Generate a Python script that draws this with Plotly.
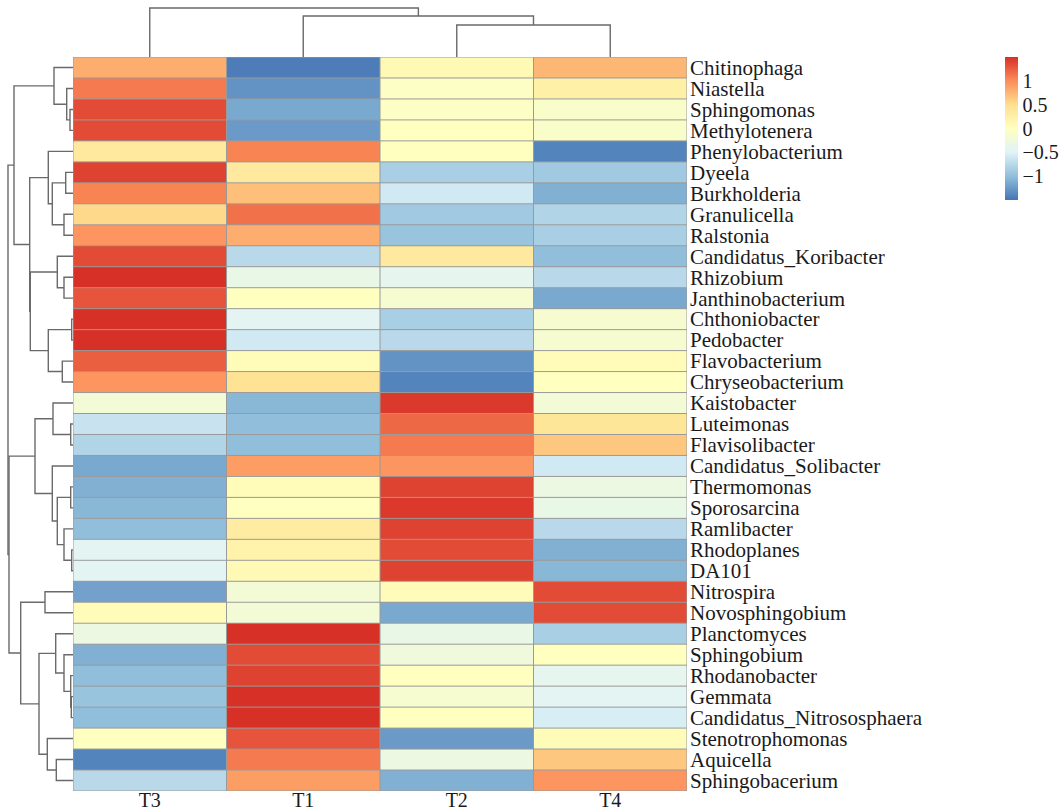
import plotly.graph_objects as go

# ---------------- data ----------------
samples = ["T3", "T1", "T2", "T4"]
genera = ["Chitinophaga", "Niastella", "Sphingomonas", "Methylotenera", "Phenylobacterium",
          "Dyeela", "Burkholderia", "Granulicella", "Ralstonia", "Candidatus_Koribacter",
          "Rhizobium", "Janthinobacterium", "Chthoniobacter", "Pedobacter", "Flavobacterium",
          "Chryseobacterium", "Kaistobacter", "Luteimonas", "Flavisolibacter", "Candidatus_Solibacter",
          "Thermomonas", "Sporosarcina", "Ramlibacter", "Rhodoplanes", "DA101",
          "Nitrospira", "Novosphingobium", "Planctomyces", "Sphingobium", "Rhodanobacter",
          "Gemmata", "Candidatus_Nitrososphaera", "Stenotrophomonas", "Aquicella", "Sphingobacerium"]

# row z-scores, columns in order T3, T1, T2, T4
zscore = [
    [0.80, -1.45, 0.10, 0.75],
    [1.10, -1.30, -0.05, 0.25],
    [1.35, -1.15, -0.05, -0.10],
    [1.35, -1.25, 0.00, -0.10],
    [0.35, 1.05, 0.00, -1.40],
    [1.40, 0.35, -0.85, -0.90],
    [1.05, 0.70, -0.60, -1.10],
    [0.55, 1.15, -0.90, -0.80],
    [0.95, 0.80, -0.95, -0.85],
    [1.35, -0.75, 0.35, -1.00],
    [1.50, -0.35, -0.40, -0.75],
    [1.30, 0.00, -0.15, -1.15],
    [1.50, -0.45, -0.85, -0.15],
    [1.50, -0.60, -0.75, -0.15],
    [1.25, 0.05, -1.30, 0.05],
    [0.95, 0.45, -1.40, 0.00],
    [-0.20, -1.05, 1.45, -0.20],
    [-0.65, -1.00, 1.20, 0.40],
    [-0.80, -1.00, 1.10, 0.65],
    [-1.15, 0.90, 0.95, -0.60],
    [-1.10, 0.05, 1.40, -0.30],
    [-1.05, 0.00, 1.45, -0.35],
    [-1.00, 0.30, 1.40, -0.75],
    [-0.45, 0.20, 1.35, -1.10],
    [-0.45, 0.10, 1.40, -1.05],
    [-1.20, -0.20, 0.05, 1.35],
    [0.05, -0.20, -1.15, 1.35],
    [-0.30, 1.50, -0.35, -0.85],
    [-1.10, 1.35, -0.25, 0.00],
    [-1.00, 1.40, 0.00, -0.40],
    [-0.95, 1.50, -0.15, -0.45],
    [-1.00, 1.50, 0.00, -0.55],
    [0.00, 1.30, -1.25, 0.05],
    [-1.40, 1.10, -0.30, 0.65],
    [-0.75, 0.90, -1.10, 0.95],
]

# row clustering: (node, child, child, merge height); ints are row indices
row_links = [
    ("A", 2, 3, 3.0), ("B", 1, "A", 6.3), ("C", 0, "B", 19.0),
    ("D", 5, 6, 7.3), ("E", 7, 8, 9.0), ("F", "D", "E", 20.7), ("G", 4, "F", 24.7),
    ("M", 10, 11, 9.0), ("K", 9, "M", 15.7), ("N", 12, 13, 1.3), ("O", 14, 15, 10.7),
    ("L", "N", "O", 24.7), ("H2", "K", "L", 42.7), ("H1", "G", "H2", 43.3), ("J", "C", "H1", 59.0),
    ("S", 17, 18, 2.3), ("T", 16, "S", 20.0), ("W", 20, 21, 2.3), ("Y", 23, 24, 1.3),
    ("X", 22, "Y", 9.0), ("V", "W", "X", 15.7), ("U", 19, "V", 20.7), ("Q", "T", "U", 38.0),
    ("Z", 25, 26, 28.0), ("AE", 30, 31, 1.7), ("AD", 29, "AE", 2.3), ("AC", 28, "AD", 9.0),
    ("AB", 27, "AC", 17.3), ("AG", 33, 34, 16.7), ("AF", 32, "AG", 25.7), ("AA", "AB", "AF", 34.0),
    ("R", "Z", "AA", 52.3), ("P2", "Q", "R", 64.0), ("root", "J", "P2", 65.0),
]

# column clustering (indices into samples)
col_links = [("c1", 2, 3, 32.0), ("c2", 1, "c1", 41.0), ("c3", 0, "c2", 49.0)]

colorscale_hex = ["#4575B4", "#91BFDB", "#E0F3F8", "#FFFFBF", "#FEE090", "#FC8D59", "#D73027"]
cbar_ticks = [-1, -0.5, 0, 0.5, 1]

# ---------------- helpers ----------------
def dendro_segments(links):
    pos, hgt = {}, {}
    a, b = [], []  # a: leaf-axis coord, b: height coord
    def p(c):
        return (c, 0.0) if isinstance(c, int) else (pos[c], hgt[c])
    for name, c1, c2, h in links:
        p1, h1 = p(c1)
        p2, h2 = p(c2)
        a += [p1, p1, p2, p2, None]
        b += [h1, h, h, h2, None]
        pos[name] = (p1 + p2) / 2
        hgt[name] = h
    return a, b

W, H = 1064, 812
hm_l, hm_r, hm_t, hm_b = 73, 687, 57, 791

serif = "Liberation Serif"
line_col = "#6a6a6a"
txt_col = "#1a1a1a"

fig = go.Figure()

n = len(colorscale_hex)
cs = [[i / (n - 1), c] for i, c in enumerate(colorscale_hex)]

fig.add_trace(go.Heatmap(
    z=zscore, x=list(range(len(samples))), y=list(range(len(genera))),
    colorscale=cs, zmin=-1.5, zmax=1.5, xaxis="x", yaxis="y",
    colorbar=dict(x=1005 / W, xanchor="left", y=1 - hm_t / H, yanchor="top",
                  len=143 / H, lenmode="fraction", thickness=13, outlinewidth=0,
                  xpad=0, ypad=0,
                  tickvals=cbar_ticks, ticks="", ticklabelposition="outside",
                  tickfont=dict(family=serif, size=20, color=txt_col)),
    hoverinfo="z",
))

# top dendrogram
ca, cb = dendro_segments(col_links)
fig.add_trace(go.Scatter(x=ca, y=cb, mode="lines", xaxis="x2", yaxis="y2",
                         line=dict(color=line_col, width=1.4), hoverinfo="skip", showlegend=False))
# left dendrogram
ra, rb = dendro_segments(row_links)
fig.add_trace(go.Scatter(x=rb, y=ra, mode="lines", xaxis="x3", yaxis="y3",
                         line=dict(color=line_col, width=1.4), hoverinfo="skip", showlegend=False))

# cell borders
shapes = []
nr, nc = len(genera), len(samples)
for j in range(nr + 1):
    shapes.append(dict(type="line", xref="x", yref="y", x0=-0.5, x1=nc - 0.5, y0=j - 0.5, y1=j - 0.5,
                       line=dict(color="#9a9a9a", width=1)))
for i in range(nc + 1):
    shapes.append(dict(type="line", xref="x", yref="y", x0=i - 0.5, x1=i - 0.5, y0=-0.5, y1=nr - 0.5,
                       line=dict(color="#9a9a9a", width=1)))

xdom = [hm_l / W, hm_r / W]
ydom = [1 - hm_b / H, 1 - hm_t / H]
fig.update_layout(
    width=W, height=H, margin=dict(l=0, r=0, t=0, b=0, autoexpand=False),
    paper_bgcolor="white", plot_bgcolor="white", showlegend=False,
    shapes=shapes,
    xaxis=dict(domain=xdom, range=[-0.5, nc - 0.5], tickvals=list(range(nc)), ticktext=samples,
               showgrid=False, zeroline=False, showline=False, ticks="", ticklen=0,
               ticklabelstandoff=-5, automargin=False,
               tickfont=dict(family=serif, size=20, color=txt_col), anchor="y"),
    yaxis=dict(domain=ydom, range=[nr - 0.5, -0.5], tickvals=list(range(nr)), ticktext=genera,
               side="right", showgrid=False, zeroline=False, showline=False, ticks="", ticklen=0,
               ticklabelstandoff=2, automargin=False,
               tickfont=dict(family=serif, size=21, color=txt_col), anchor="x"),
    xaxis2=dict(domain=xdom, range=[-0.5, nc - 0.5], visible=False, anchor="y2"),
    yaxis2=dict(domain=[1 - hm_t / H, 1], range=[0, hm_t], visible=False, anchor="x2"),
    xaxis3=dict(domain=[0, hm_l / W], range=[hm_l, 0], visible=False, anchor="y3"),
    yaxis3=dict(domain=ydom, range=[nr - 0.5, -0.5], visible=False, anchor="x3"),
)

fig.write_html("out.html", config={"displayModeBar": False},
               post_script="document.body.style.margin='0px';")
